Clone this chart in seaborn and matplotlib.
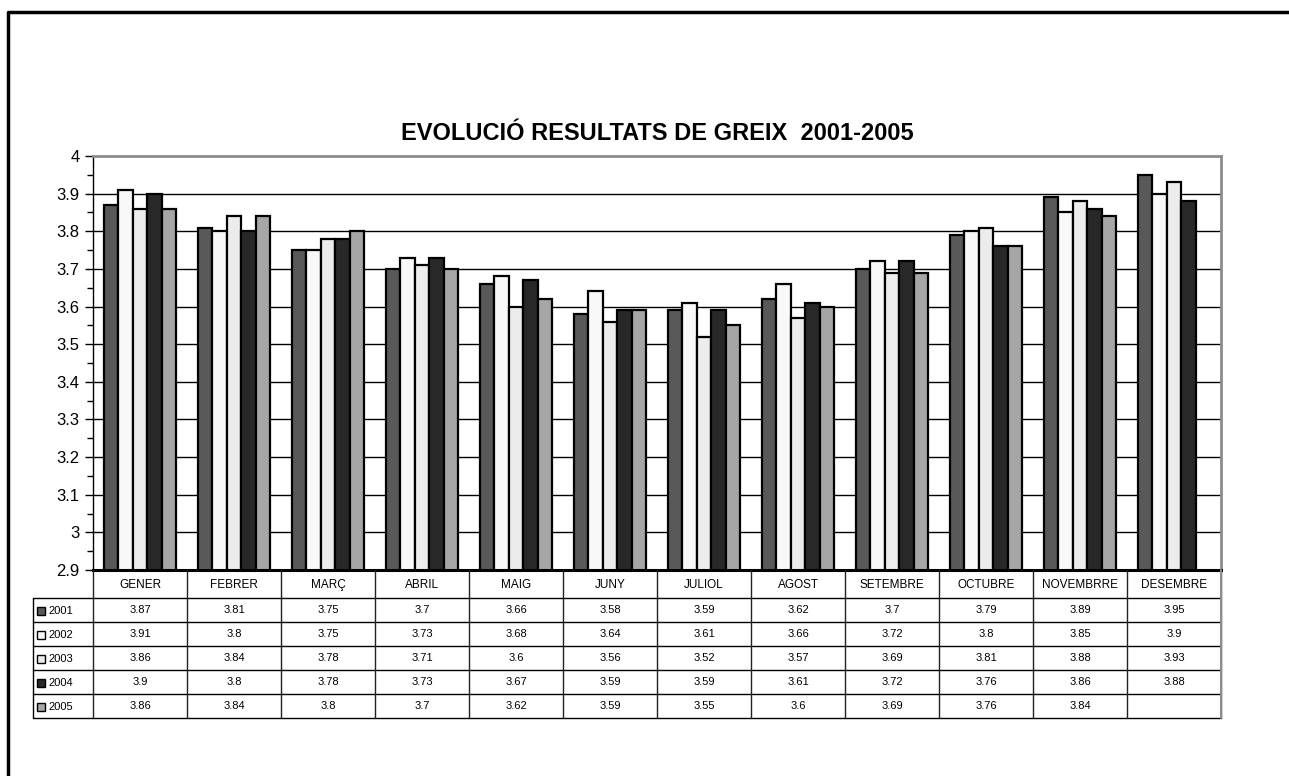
import matplotlib
matplotlib.use("Agg")
import matplotlib.pyplot as plt
from matplotlib.lines import Line2D
from matplotlib.patches import Rectangle
from matplotlib.ticker import MultipleLocator, FuncFormatter
import seaborn as sns
import pandas as pd
import numpy as np

# --- data ---
months = ["GENER", "FEBRER", "MARÇ", "ABRIL", "MAIG", "JUNY", "JULIOL",
          "AGOST", "SETEMBRE", "OCTUBRE", "NOVEMBRRE", "DESEMBRE"]
years = ["2001", "2002", "2003", "2004", "2005"]
v2001 = [3.87, 3.81, 3.75, 3.70, 3.66, 3.58, 3.59, 3.62, 3.70, 3.79, 3.89, 3.95]
v2002 = [3.91, 3.80, 3.75, 3.73, 3.68, 3.64, 3.61, 3.66, 3.72, 3.80, 3.85, 3.90]
v2003 = [3.86, 3.84, 3.78, 3.71, 3.60, 3.56, 3.52, 3.57, 3.69, 3.81, 3.88, 3.93]
v2004 = [3.90, 3.80, 3.78, 3.73, 3.67, 3.59, 3.59, 3.61, 3.72, 3.76, 3.86, 3.88]
v2005 = [3.86, 3.84, 3.80, 3.70, 3.62, 3.59, 3.55, 3.60, 3.69, 3.76, 3.84, None]
colors = ["#595959", "#f8f8f8", "#ececec", "#282828", "#a6a6a6"]

series = dict(zip(years, [v2001, v2002, v2003, v2004, v2005]))
rows = []
for y, vals in series.items():
    for m, v in zip(months, vals):
        if v is not None:
            rows.append({"month": m, "year": y, "value": v})
df = pd.DataFrame(rows)

sns.set_style("white")
plt.rcParams["font.family"] = ["Liberation Sans", "DejaVu Sans"]
plt.rcParams["text.color"] = "black"
plt.rcParams["ytick.color"] = "black"
plt.rcParams["xtick.color"] = "black"

W, H = 1289, 776
fig = plt.figure(figsize=(W / 100, H / 100), dpi=100)

# plot area in pixels
px_l, px_r, px_t, px_b = 93, 1221, 156, 570
ax = fig.add_axes([px_l / W, 1 - px_b / H, (px_r - px_l) / W, (px_b - px_t) / H])

sns.barplot(data=df, x="month", y="value", hue="year", order=months,
            hue_order=years, palette=colors, width=0.77, gap=0,
            edgecolor="black", linewidth=1.6, legend=False, ax=ax)

ax.set_xlim(-0.5, len(months) - 0.5)
ax.set_ylim(2.9, 4.0)
ax.yaxis.set_major_locator(MultipleLocator(0.1))
ax.yaxis.set_minor_locator(MultipleLocator(0.05))
ax.yaxis.set_major_formatter(FuncFormatter(lambda v, p: f"{v:g}"))
ax.tick_params(axis="y", which="major", direction="out", length=6, width=1,
               labelsize=12, color="black", labelcolor="black", left=True)
ax.tick_params(axis="y", which="minor", direction="out", length=4, width=1,
               color="black", left=True)
ax.set_xticks([])
ax.set_xlabel("")
ax.set_ylabel("")
for g in np.arange(3.0, 3.95, 0.1):
    ax.axhline(g, color="black", lw=1, zorder=0)
ax.spines["left"].set_color("black")
ax.spines["left"].set_linewidth(1)
ax.spines["bottom"].set_color("black")
ax.spines["bottom"].set_linewidth(2.2)
ax.spines["top"].set_color("#8c8c8c")
ax.spines["top"].set_linewidth(2)
ax.spines["right"].set_color("#8c8c8c")
ax.spines["right"].set_linewidth(2)

fig.text(0.5 * (px_l + px_r) / W, 1 - 134 / H,
         "EVOLUCIÓ RESULTATS DE GREIX  2001-2005",
         ha="center", va="center", fontsize=17, fontweight="bold", color="black")

# --- data table below the plot ---
tb_l, tb_b = 33, 718
unit = (px_r - px_l) / len(months)
leg_w = (px_l - tb_l) / unit
tax = fig.add_axes([tb_l / W, 1 - tb_b / H, (px_r - tb_l) / W, (tb_b - px_b) / H])
tax.set_xlim(-0.5 - leg_w, len(months) - 0.5)
tax.set_ylim(tb_b - px_b, 0)
tax.axis("off")

hdr = 28
rh = 24
x0 = -0.5 - leg_w
x1 = len(months) - 0.5
for i in range(len(years) + 1):
    yy = hdr + i * rh
    tax.plot([x0, x1], [yy, yy], color="black", lw=1, clip_on=False)
# vertical lines
tax.plot([x0, x0], [hdr, hdr + rh * len(years)], color="black", lw=1, clip_on=False)
for k in range(len(months) + 1):
    tax.plot([k - 0.5, k - 0.5], [0, hdr + rh * len(years)], color="#222222",
             lw=1, clip_on=False)
tax.plot([x1, x1], [0, hdr + rh * len(years)], color="#8c8c8c", lw=1.5, clip_on=False)

for k, m in enumerate(months):
    tax.text(k, hdr / 2 + 1, m, ha="center", va="center", fontsize=8.5)

sw = 8 / unit
for i, (y, vals) in enumerate(series.items()):
    yc = hdr + i * rh + rh / 2 + 1
    tax.add_patch(Rectangle((x0 + 4 / unit, yc - 4), sw, 8, facecolor=colors[i],
                            edgecolor="black", lw=1, clip_on=False))
    tax.text(x0 + 15 / unit, yc, y, ha="left", va="center", fontsize=8)
    for k, v in enumerate(vals):
        if v is not None:
            tax.text(k, yc - 1, f"{v:g}", ha="center", va="center", fontsize=8)

# outer frame (left and top edges visible)
fig.add_artist(Line2D([8 / W, 8 / W, 1.0], [0.0, 1 - 12 / H, 1 - 12 / H],
                      color="black", lw=2.5, transform=fig.transFigure))

fig.savefig("out.png", dpi=100, facecolor="white")
